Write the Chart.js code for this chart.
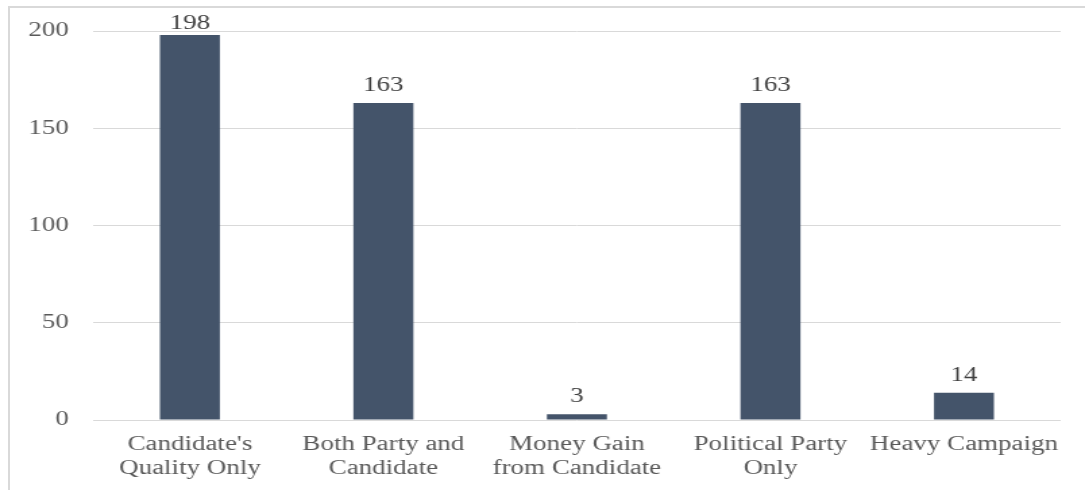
<!DOCTYPE html>
<html>
<head>
<meta charset="utf-8">
<script src="https://cdn.jsdelivr.net/npm/chart.js@4/dist/chart.umd.min.js"></script>
<style>
  html, body { margin: 0; padding: 0; background: #fff; width: 1085px; height: 490px; overflow: hidden; }
  #frame { position: absolute; left: 8px; top: 6px; width: 1100px; height: 500px; border: 2px solid #d9d9d9; box-sizing: border-box; }
  #wrap { position: absolute; left: 0; top: 0; transform-origin: 0 0; transform: scale(1.3495, 1); }
  canvas { display: block; }
</style>
</head>
<body>
<div id="frame"></div>
<div id="wrap"><canvas id="c" width="804" height="490"></canvas></div>
<script>
// Reasons given for voting choice
const categories = [
  ["Candidate's", "Quality Only"],
  ["Both Party and", "Candidate"],
  ["Money Gain", "from Candidate"],
  ["Political Party", "Only"],
  "Heavy Campaign"
];
const counts = [198, 163, 3, 163, 14];
const yTicks = [0, 50, 100, 150, 200];

const FONT = "'Liberation Serif', 'Times New Roman', serif";
Chart.defaults.font.family = FONT;
Chart.defaults.font.size = 20;

// Draws each bar's count above it
const valueLabels = {
  id: 'valueLabels',
  afterDatasetsDraw(chart) {
    const ctx = chart.ctx;
    const meta = chart.getDatasetMeta(0);
    ctx.save();
    ctx.font = '20px ' + FONT;
    ctx.fillStyle = '#404040';
    ctx.textAlign = 'center';
    ctx.textBaseline = 'middle';
    meta.data.forEach((bar, i) => {
      const y = Math.max(bar.y - 17, chart.chartArea.top - 7);
      ctx.fillText(String(counts[i]), bar.x, y);
    });
    ctx.restore();
  }
};

new Chart(document.getElementById('c'), {
  type: 'bar',
  data: {
    labels: categories,
    datasets: [{
      data: counts,
      backgroundColor: '#44546a',
      borderWidth: 0,
      categoryPercentage: 1,
      barPercentage: 0.31
    }]
  },
  options: {
    responsive: false,
    devicePixelRatio: 1,
    animation: false,
    events: [],
    layout: { padding: { left: 0, right: 18, top: 31, bottom: 0 } },
    plugins: { legend: { display: false }, tooltip: { enabled: false } },
    scales: {
      x: {
        grid: { display: false },
        border: { display: false },
        ticks: {
          color: '#595959',
          font: { family: FONT, size: 20, lineHeight: 1.2 },
          padding: 5,
          maxRotation: 0,
          autoSkip: false
        },
        afterFit(s) { s.height = 70; }
      },
      y: {
        min: 0,
        max: 200,
        afterBuildTicks(s) { s.ticks = yTicks.map(v => ({ value: v })); },
        grid: { color: '#d9d9d9', lineWidth: 1, drawTicks: false },
        border: { display: false },
        ticks: {
          color: '#595959',
          font: { family: FONT, size: 20 },
          padding: 18
        },
        afterFit(s) { s.width = 69; }
      }
    }
  },
  plugins: [valueLabels]
});
</script>
</body>
</html>
